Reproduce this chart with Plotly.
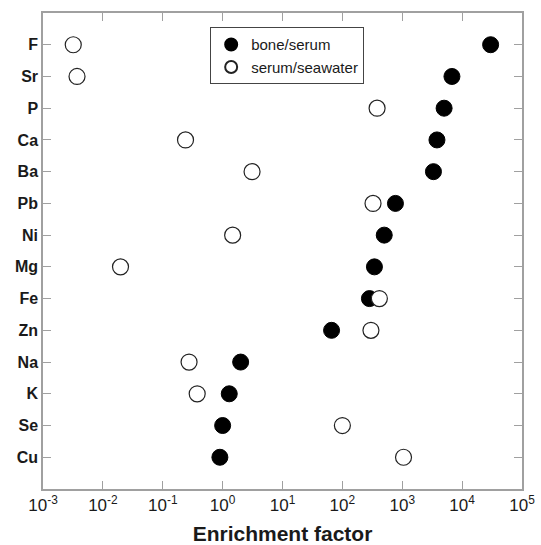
import plotly.graph_objects as go

elements = ["F", "Sr", "P", "Ca", "Ba", "Pb", "Ni", "Mg", "Fe", "Zn", "Na", "K", "Se", "Cu"]
bone_serum = [29900, 6760, 5000, 3800, 3320, 770, 500, 343, 283, 66, 2.0, 1.29, 1.0, 0.90]
serum_seawater = [0.0032, 0.0037, 380, 0.24, 3.1, 325, 1.47, 0.0197, 415, 300, 0.275, 0.376, 100, 1050]

xtick_vals = [1e-3, 1e-2, 1e-1, 1e0, 1e1, 1e2, 1e3, 1e4, 1e5]
xtick_text = ["10<sup>-3</sup>", "10<sup>-2</sup>", "10<sup>-1</sup>", "10<sup>0</sup>",
              "10<sup>1</sup>", "10<sup>2</sup>", "10<sup>3</sup>", "10<sup>4</sup>", "10<sup>5</sup>"]

font_family = "Liberation Sans, Arial, sans-serif"
axis_color = "#a0a0a0"
text_color = "#1a1a1a"

fig = go.Figure()
fig.add_trace(go.Scatter(
    x=bone_serum, y=elements, mode="markers", name="bone/serum",
    marker=dict(size=16, color="black", line=dict(color="black", width=1)),
))
fig.add_trace(go.Scatter(
    x=serum_seawater, y=elements, mode="markers", name="serum/seawater",
    marker=dict(size=16, color="white", line=dict(color="#222222", width=1.2)),
))

fig.update_layout(
    width=541, height=545,
    margin=dict(l=43, r=19, t=13, b=56),
    paper_bgcolor="white", plot_bgcolor="white",
    font=dict(family=font_family, color=text_color),
    legend=dict(
        x=0.349, y=0.97, xanchor="left", yanchor="top",
        bordercolor="#444444", borderwidth=1, bgcolor="white",
        font=dict(size=15, family=font_family, color=text_color), tracegroupgap=4,
        itemsizing="constant",
    ),
    xaxis=dict(
        type="log", range=[-3, 5], automargin=False,
        tickvals=xtick_vals, ticktext=xtick_text,
        ticks="inside", ticklen=8, tickcolor=axis_color,
        showline=True, linecolor=axis_color, linewidth=1.5, mirror="ticks",
        showgrid=False, zeroline=False,
        tickfont=dict(size=17, family=font_family, color=text_color),
        title=dict(text="<b>Enrichment factor</b>", font=dict(size=21, family=font_family, color=text_color), standoff=22),
    ),
    yaxis=dict(
        type="category", automargin=False,
        categoryorder="array", categoryarray=elements[::-1],
        range=[-1, 14],
        tickvals=elements, ticktext=["<b>%s</b>" % e for e in elements],
        ticks="inside", ticklen=8, tickcolor=axis_color,
        showline=True, linecolor=axis_color, linewidth=1.5, mirror="ticks",
        showgrid=False, zeroline=False,
        tickfont=dict(size=16, family=font_family, color=text_color),
    ),
)

fig.write_html("out.html")
